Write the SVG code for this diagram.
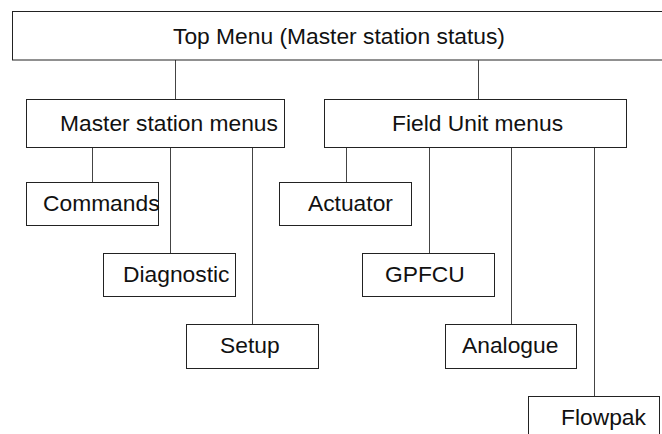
<svg xmlns="http://www.w3.org/2000/svg" width="662" height="434" viewBox="0 0 662 434">
<style>
rect{fill:#fff;stroke:#222;stroke-width:1}
line{stroke:#444;stroke-width:1}
text{font-family:"Liberation Sans",Arial,sans-serif;font-size:22.8px;fill:#111}
</style>
<rect x="0" y="0" width="662" height="434" style="stroke:none"/>
<g id="connectors">
<line x1="175.5" y1="60" x2="175.5" y2="99"/>
<line x1="478.5" y1="60" x2="478.5" y2="99"/>
<line x1="92.5" y1="148" x2="92.5" y2="182"/>
<line x1="170.5" y1="148" x2="170.5" y2="253"/>
<line x1="252.5" y1="148" x2="252.5" y2="324"/>
<line x1="346.5" y1="148" x2="346.5" y2="182"/>
<line x1="429.5" y1="148" x2="429.5" y2="253"/>
<line x1="511.5" y1="148" x2="511.5" y2="324"/>
<line x1="594.5" y1="148" x2="594.5" y2="396"/>
</g>
<g id="top"><rect x="12.5" y="11.5" width="660" height="48.5"/><text x="173" y="43.5">Top Menu (Master station status)</text></g>
<g id="master"><rect x="26.5" y="99.5" width="258" height="48"/><text x="60" y="130.5">Master station menus</text></g>
<g id="field"><rect x="324.5" y="99.5" width="302" height="48"/><text x="392" y="130.5">Field Unit menus</text></g>
<g id="commands"><rect x="26.5" y="182.5" width="132" height="43"/><text x="43" y="211">Commands</text></g>
<g id="diagnostic"><rect x="103.5" y="253.5" width="132" height="43"/><text x="123" y="281.5">Diagnostic</text></g>
<g id="setup"><rect x="186.5" y="324.5" width="132" height="44"/><text x="220" y="352.5">Setup</text></g>
<g id="actuator"><rect x="279.5" y="182.5" width="132" height="43"/><text x="308" y="211">Actuator</text></g>
<g id="gpfcu"><rect x="362.5" y="253.5" width="132" height="43"/><text x="385" y="282">GPFCU</text></g>
<g id="analogue"><rect x="445.5" y="324.5" width="131" height="44"/><text x="462" y="353">Analogue</text></g>
<g id="flowpak"><rect x="528.5" y="396.5" width="131" height="50"/><text x="561" y="425">Flowpak</text></g>
</svg>
